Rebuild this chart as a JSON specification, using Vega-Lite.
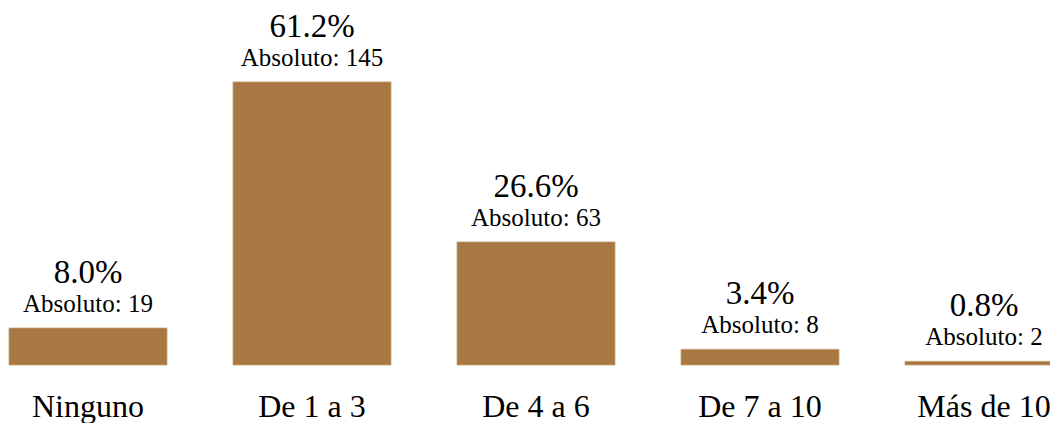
{
  "$schema": "https://vega.github.io/schema/vega-lite/v6.json",
  "width": 1050,
  "height": 365,
  "padding": {"left": 0, "top": 0, "right": 0, "bottom": 58},
  "autosize": {"type": "none"},
  "background": "white",
  "config": {"view": {"stroke": null}},
  "data": {
    "values": [
      {"cat": "Ninguno", "pct": 8.0, "pctLabel": "8.0%", "absLabel": "Absoluto: 19"},
      {"cat": "De 1 a 3", "pct": 61.2, "pctLabel": "61.2%", "absLabel": "Absoluto: 145"},
      {"cat": "De 4 a 6", "pct": 26.6, "pctLabel": "26.6%", "absLabel": "Absoluto: 63"},
      {"cat": "De 7 a 10", "pct": 3.4, "pctLabel": "3.4%", "absLabel": "Absoluto: 8"},
      {"cat": "Más de 10", "pct": 0.8, "pctLabel": "0.8%", "absLabel": "Absoluto: 2"}
    ]
  },
  "encoding": {
    "x": {
      "field": "cat",
      "type": "nominal",
      "sort": null,
      "scale": {"range": [-24, 1096], "paddingInner": 0.2946, "paddingOuter": 0.1473},
      "axis": {
        "title": null,
        "domain": false,
        "ticks": false,
        "tickSize": 0,
        "grid": false,
        "labelAngle": 0,
        "labelFont": "Liberation Serif",
        "labelFontSize": 32,
        "labelColor": "#000000",
        "labelBaseline": "alphabetic",
        "labelPadding": 51,
        "labelOverlap": false
      }
    },
    "y": {
      "field": "pct",
      "type": "quantitative",
      "scale": {"domain": [0, 78.9], "nice": false, "zero": true},
      "axis": null
    }
  },
  "layer": [
    {
      "mark": {"type": "bar", "color": "#A87843", "stroke": "#C9A27A", "strokeWidth": 0.8}
    },
    {
      "mark": {"type": "text", "font": "Liberation Serif", "fontSize": 33, "baseline": "alphabetic", "dy": -45, "color": "#000000"},
      "encoding": {"text": {"field": "pctLabel"}}
    },
    {
      "mark": {"type": "text", "font": "Liberation Serif", "fontSize": 25, "baseline": "alphabetic", "dy": -16, "color": "#000000"},
      "encoding": {"text": {"field": "absLabel"}}
    }
  ]
}
